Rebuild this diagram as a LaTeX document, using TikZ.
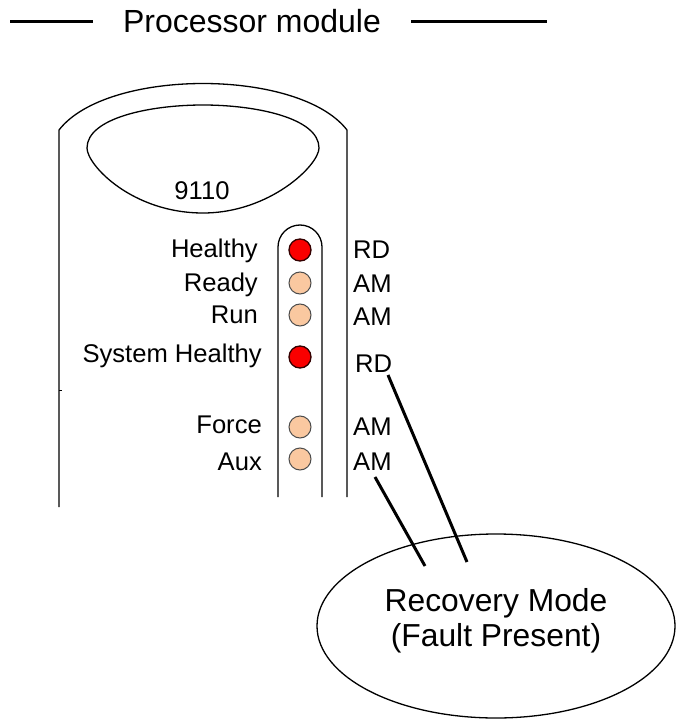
\documentclass[tikz,border=0pt]{standalone}
\usepackage{fontspec}
\setmainfont{Liberation Sans}
\usetikzlibrary{shapes.geometric}
\definecolor{ledred}{RGB}{250,0,0}
\definecolor{ledamber}{RGB}{250,200,160}
\tikzset{
  outline/.style={line width=1.3pt, black},
  rule/.style={line width=3pt, black},
  pointer/.style={line width=3pt, black},
  lbl/.style={inner sep=0pt, font=\fontsize{25.6}{30}\selectfont},
  ledon/.style={circle, draw=black!80!red, line width=1.3pt, fill=ledred, minimum size=22pt, inner sep=0pt},
  ledoff/.style={circle, draw=black!70, line width=1pt, fill=ledamber, minimum size=22pt, inner sep=0pt}
}
\begin{document}
\begin{tikzpicture}[x=1pt,y=-1pt]
\useasboundingbox (0,0) rectangle (675,719);

% heading with rules either side
\node[lbl, anchor=base, font=\fontsize{32}{36}\selectfont] (title) at (252,33) {Processor module};
\coordinate (rl1) at (10,22); \coordinate (rl2) at (93,22);
\coordinate (rr1) at (411,22); \coordinate (rr2) at (547,22);
\draw[rule] (rl1) -- (rl2);
\draw[rule] (rr1) -- (rr2);

% module body
\draw[outline] (59,507) -- (59,130) .. controls (107,68) and (299,68) .. (347,130) -- (347,497);
\draw[line width=1pt] (59,390) -- (62,390);

% display window
\draw[outline] (87,148) .. controls (87,118) and (150,105) .. (203,105)
  .. controls (256,105) and (319,118) .. (319,148)
  .. controls (319,165) and (270,213) .. (203,213)
  .. controls (132,213) and (87,165) .. (87,148) -- cycle;
\node[lbl, anchor=base] (model) at (202,200) {9110};

% LED channel
\draw[outline] (278,497) -- (278,247) arc[start angle=180, end angle=360, radius=22] -- (322,497);

% LEDs
\node[ledon]  (healthy) at (300,250) {};
\node[ledoff] (ready)   at (300,283) {};
\node[ledoff] (run)     at (300,315) {};
\node[ledon]  (syshealthy) at (300,357) {};
\node[ledoff] (force)   at (300,427) {};
\node[ledoff] (aux)     at (300,459) {};

% LED names
\node[lbl, anchor=base east] (lh) at (258,257) {Healthy};
\node[lbl, anchor=base east] (lr) at (258,291) {Ready};
\node[lbl, anchor=base east] (lu) at (258,323) {Run};
\node[lbl, anchor=base east] (ls) at (262,362) {System Healthy};
\node[lbl, anchor=base east] (lf) at (262,433) {Force};
\node[lbl, anchor=base east] (la) at (262,470) {Aux};

% LED states
\node[lbl, anchor=base west] (sh) at (353,258) {RD};
\node[lbl, anchor=base west] (sr) at (353,292) {AM};
\node[lbl, anchor=base west] (su) at (353,325) {AM};
\node[lbl, anchor=base west] (ss) at (355,372) {RD};
\node[lbl, anchor=base west] (sf) at (353,435) {AM};
\node[lbl, anchor=base west] (sa) at (353,470) {AM};

% mode callout
\node[ellipse, draw, line width=1.3pt, minimum width=358pt, minimum height=184pt, inner sep=0pt] (mode) at (496,626) {};
\node[lbl, anchor=base, font=\fontsize{31.8}{36}\selectfont] (mode1) at (496,611) {Recovery Mode};
\node[lbl, anchor=base, font=\fontsize{31.8}{36}\selectfont] (mode2) at (496,646) {(Fault Present)};

% pointers from the states to the callout
\coordinate (pa) at (375,477);
\coordinate (pae) at (425,566);
\coordinate (ps) at (388,375);
\coordinate (pse) at (467,562);
\draw[pointer] (pa) -- (pae);
\draw[pointer] (ps) -- (pse);
\end{tikzpicture}
\end{document}
